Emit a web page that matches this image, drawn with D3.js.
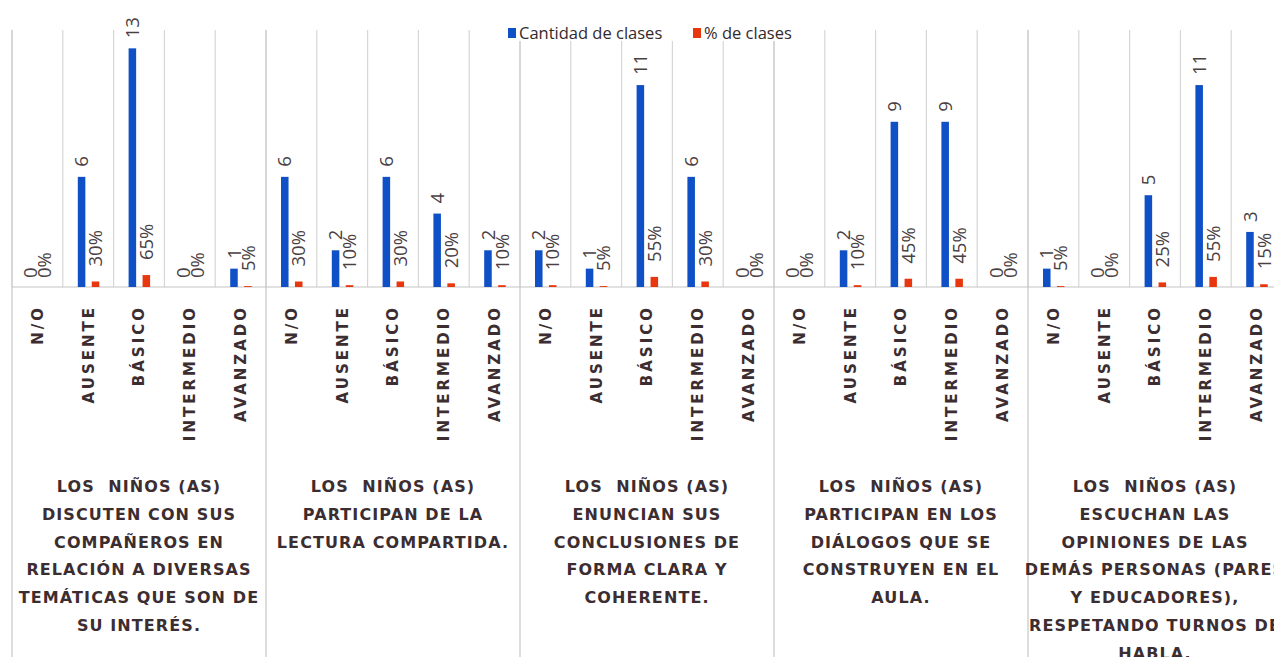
<!DOCTYPE html>
<html>
<head>
<meta charset="utf-8">
<script src="https://cdn.jsdelivr.net/npm/d3@7"></script>
<style>
  html, body { margin: 0; padding: 0; background: #fff; }
  svg { display: block; }
</style>
</head>
<body>
<svg id="chart" width="1274" height="657"></svg>
<script>
// categorias de cada grupo
const categories = ["N/O", "AUSENTE", "BÁSICO", "INTERMEDIO", "AVANZADO"]

// textos de los grupos, ya cortados en lineas como en la imagen
const groupLabels = [
  ["LOS  NIÑOS (AS)", "DISCUTEN CON SUS", "COMPAÑEROS EN", "RELACIÓN A DIVERSAS", "TEMÁTICAS QUE SON DE", "SU INTERÉS."],
  ["LOS  NIÑOS (AS)", "PARTICIPAN DE LA", "LECTURA COMPARTIDA."],
  ["LOS  NIÑOS (AS)", "ENUNCIAN SUS", "CONCLUSIONES DE", "FORMA CLARA Y", "COHERENTE."],
  ["LOS  NIÑOS (AS)", "PARTICIPAN EN LOS", "DIÁLOGOS QUE SE", "CONSTRUYEN EN EL", "AULA."],
  ["LOS  NIÑOS (AS)", "ESCUCHAN LAS", "OPINIONES DE LAS", "DEMÁS PERSONAS (PARES", "Y EDUCADORES),", "RESPETANDO TURNOS DE", "HABLA."]
]

// Cantidad de clases
const cantidad = [
  [0, 6, 13, 0, 1],
  [6, 2, 6, 4, 2],
  [2, 1, 11, 6, 0],
  [0, 2, 9, 9, 0],
  [1, 0, 5, 11, 3]
]

// % de clases
const porcentaje = [
  [0, 30, 65, 0, 5],
  [30, 10, 30, 20, 10],
  [10, 5, 55, 30, 0],
  [0, 10, 45, 45, 0],
  [5, 0, 25, 55, 15]
]

const series = ["Cantidad de clases", "% de clases"]
const colors = ["#1050c6", "#e8360e"]

const svg = d3.select("#chart")
const width = 1274, height = 657

const baseY = 287, topY = 30

let rows = []
groupLabels.forEach((g, gi) => {
  categories.forEach((c, ci) => {
    rows.push({ key: gi + "-" + ci, group: gi, cat: c, count: cantidad[gi][ci], pct: porcentaje[gi][ci] })
  })
})

// el grafico original sigue un poco mas alla del borde derecho
let xScale = d3.scaleBand()
  .domain(rows.map(d => d.key))
  .range([12, 12 + 25 * 50.8])

let xSub = d3.scaleBand()
  .domain([0, 1])
  .range([15, 36.5])
  .paddingInner(0.46)

let yScale = d3.scaleLinear()
  .domain([0, 14])
  .range([baseY, topY])

const textColor = "#3c2d31"

// lineas verticales de categoria
svg.append("g")
  .selectAll("line")
  .data(rows)
  .join("line")
  .attr("x1", d => xScale(d.key))
  .attr("x2", d => xScale(d.key))
  .attr("y1", topY)
  .attr("y2", baseY)
  .attr("stroke", "#d6d6d6")
  .attr("stroke-width", 1.2)

// lineas de grupo que bajan hasta abajo
svg.append("g")
  .selectAll("line")
  .data(groupLabels)
  .join("line")
  .attr("x1", (d, i) => xScale(i + "-0"))
  .attr("x2", (d, i) => xScale(i + "-0"))
  .attr("y1", topY)
  .attr("y2", height)
  .attr("stroke", "#d2d2d2")
  .attr("stroke-width", 1.5)

// linea base
svg.append("line")
  .attr("x1", 12)
  .attr("x2", width)
  .attr("y1", baseY)
  .attr("y2", baseY)
  .attr("stroke", "#c4c4c4")
  .attr("stroke-width", 1.2)

let bars = svg.append("g")

rows.forEach(r => {
  let vals = [r.count, r.pct / 100]
  vals.forEach((v, si) => {
    let x = xScale(r.key) + xSub(si)
    bars.append("rect")
      .attr("x", x)
      .attr("width", xSub.bandwidth())
      .attr("y", yScale(v))
      .attr("height", baseY - yScale(v))
      .attr("fill", colors[si])

    let txt = si == 0 ? String(r.count) : r.pct + "%"
    let off = v == 0 ? 9 : (si == 0 ? 10 : 15)
    let cx = x + xSub.bandwidth() / 2
    let cy = yScale(v) - off
    bars.append("text")
      .attr("transform", "translate(" + cx + "," + cy + ") rotate(-90)")
      .attr("text-anchor", "start")
      .attr("dy", "0.36em")
      .attr("font-family", "'Open Sans', 'Noto Sans', sans-serif")
      .attr("font-size", 18.5)
      .attr("fill", "#4a4042")
      .text(txt)
  })
})

// etiquetas de categoria, giradas
svg.append("g")
  .selectAll("text")
  .data(rows)
  .join("text")
  .attr("transform", d => "translate(" + (xScale(d.key) + xScale.bandwidth() / 2) + ",305) rotate(-90)")
  .attr("text-anchor", "end")
  .attr("dy", "0.36em")
  .attr("font-family", "'DejaVu Sans', sans-serif")
  .attr("font-weight", "bold")
  .attr("font-size", 15)
  .attr("letter-spacing", 3)
  .attr("fill", textColor)
  .text(d => d.cat)

// textos de grupo
groupLabels.forEach((lines, gi) => {
  let cx = xScale(gi + "-0") + xScale.bandwidth() * 2.5
  let t = svg.append("text")
    .attr("text-anchor", "middle")
    .attr("font-family", "'DejaVu Sans', sans-serif")
    .attr("font-weight", "bold")
    .attr("font-size", 16)
    .attr("letter-spacing", 1.1)
    .attr("fill", textColor)
    .style("white-space", "pre")

  lines.forEach((l, li) => {
    t.append("tspan")
      .attr("x", cx)
      .attr("y", 492 + li * 27.8)
      .text(l)
  })
})

// leyenda
let legend = svg.append("g")

legend.append("rect")
  .attr("x", 496)
  .attr("y", 14)
  .attr("width", 312)
  .attr("height", 27)
  .attr("fill", "#fff")

let legX = [508, 693]
series.forEach((s, i) => {
  legend.append("rect")
    .attr("x", legX[i])
    .attr("y", 28)
    .attr("width", 8)
    .attr("height", 10)
    .attr("fill", colors[i])

  legend.append("text")
    .attr("x", legX[i] + 11)
    .attr("y", 39)
    .attr("font-family", "'Open Sans', sans-serif")
    .attr("font-size", 16.5)
    .attr("fill", "#33292d")
    .text(s)
})
</script>
</body>
</html>
